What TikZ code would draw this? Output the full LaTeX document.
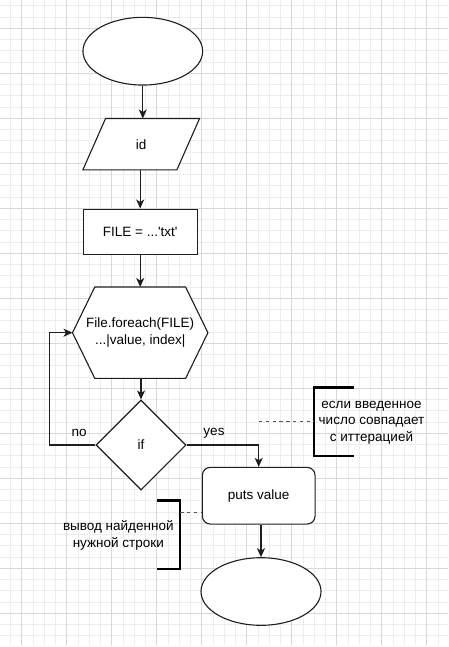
\documentclass[tikz,border=0pt]{standalone}
\usepackage{fontspec}
\newfontfamily\lib{Liberation Sans}
\usetikzlibrary{shapes.geometric,arrows.meta}
\definecolor{stroke}{HTML}{1E1E1E}
\definecolor{gridmaj}{HTML}{D8D8D8}
\definecolor{gridmin}{HTML}{EDEDED}
\definecolor{dashc}{HTML}{555555}
\pgfdeclarelayer{gridlayer}
\pgfdeclarelayer{shapelayer}
\pgfsetlayers{gridlayer,shapelayer,main}
\begin{document}
\begin{tikzpicture}[x=1pt,y=-1pt,
  every node/.style={font=\lib\fontsize{13.5}{16.5}\selectfont, text=black},
  flow/.style={draw=stroke, line width=1.1pt, fill=white},
  conn/.style={draw=stroke, line width=1.1pt, -{Stealth[length=9pt,width=8pt,inset=2.5pt]}},
  bracket/.style={draw=black, line width=2.2pt},
  dashline/.style={draw=dashc, line width=1.1pt, dash pattern=on 3.4pt off 3.4pt},
  gmin/.style={draw=gridmin, line width=0.9pt},
  gmaj/.style={draw=gridmaj, line width=0.9pt}]
\useasboundingbox (0,0) rectangle (448,647);
\begin{pgfonlayer}{gridlayer}
\fill[white] (0,0) rectangle (448,647);
\begin{scope}
\clip (0,0) rectangle (448,645);
\foreach \i in {0,...,39} \draw[gmin] ({10.45+11.25*\i},0) -- ++(0,645);
\foreach \i in {0,...,57} \draw[gmin] (0,{5.8+11.25*\i}) -- ++(448,0);
\foreach \i in {0,...,9} \draw[gmaj] ({21.7+45*\i},0) -- ++(0,645);
\foreach \i in {0,...,14} \draw[gmaj] (0,{28.3+45*\i}) -- ++(448,0);
\end{scope}
\end{pgfonlayer}

% shapes
\node[ellipse, flow, minimum width=119.7pt, minimum height=67.7pt, inner sep=0] (start) at (142.8,51.2) {};
\node[minimum width=116.3pt, minimum height=51pt, inner sep=0] (id) at (141.2,144.2) {id};
\begin{pgfonlayer}{shapelayer}
\draw[flow] ([xshift=22.7pt]id.north west) -- (id.north east) -- ([xshift=-22.7pt]id.south east) -- (id.south west) -- cycle;
\end{pgfonlayer}
\node[flow, rectangle, minimum width=114.3pt, minimum height=45.3pt] (file) at (140.2,231.7) {FILE = ...'txt'};
\node[minimum width=135pt, minimum height=91pt, inner sep=0, align=center] (hex) at (140.2,332.7) {File.foreach(FILE)\\...|value, index|};
\begin{pgfonlayer}{shapelayer}
\draw[flow] (hex.west) -- ([xshift=22.3pt]hex.north west) -- ([xshift=-22.3pt]hex.north east) -- (hex.east) -- ([xshift=-22.3pt]hex.south east) -- ([xshift=22.3pt]hex.south west) -- cycle;
\end{pgfonlayer}
\node[diamond, flow, aspect=1, minimum width=90pt, minimum height=90pt, inner sep=0] (if) at (141,445) {if};
\node[flow, rectangle, rounded corners=8pt, minimum width=112.7pt, minimum height=56.7pt] (puts) at (258.7,495.7) {puts value};
\node[ellipse, flow, minimum width=120pt, minimum height=67.6pt, inner sep=0] (end) at (261,591.5) {};

% connectors
\draw[conn] (start.south) -- (start.south |- id.north);
\draw[conn] (id.south -| file.north) -- (file.north);
\draw[conn] (file.south) -- (hex.north);
\draw[conn] (hex.south -| if.north) -- (if.north);
\draw[conn] (if.west) -- ++(-46,0) |- (hex.west);
\node (no) at (79.2,433.3) {no};
\draw[conn] (if.east) -| (puts.north);
\node (yes) at (214,433.3) {yes};
\draw[conn] (end.north |- puts.south) -- (end.north);

% annotation 1
\node[minimum width=39pt, minimum height=68pt, inner sep=0] (b1) at (333.8,421.7) {};
\draw[bracket] (b1.north east) -- (b1.north west) -- (b1.south west) -- (b1.south east);
\node[align=center] (t1) at (371.5,422.7) {если введенное\\число совпадает\\с иттерацией};
\coordinate (d1) at (259,421.7);
\draw[dashline] (d1) -- (b1.west);

% annotation 2
\node[minimum width=22.7pt, minimum height=68.3pt, inner sep=0] (b2) at (168.65,534.85) {};
\draw[bracket] (b2.north west) -- (b2.north east) -- (b2.south east) -- (b2.south west);
\node[align=center] (t2) at (118.3,535.5) {вывод найденной\\нужной строки};
\coordinate (d2) at (202.3,512.7);
\draw[dashline] (d2 -| b2.east) -- (d2);
\end{tikzpicture}
\end{document}
